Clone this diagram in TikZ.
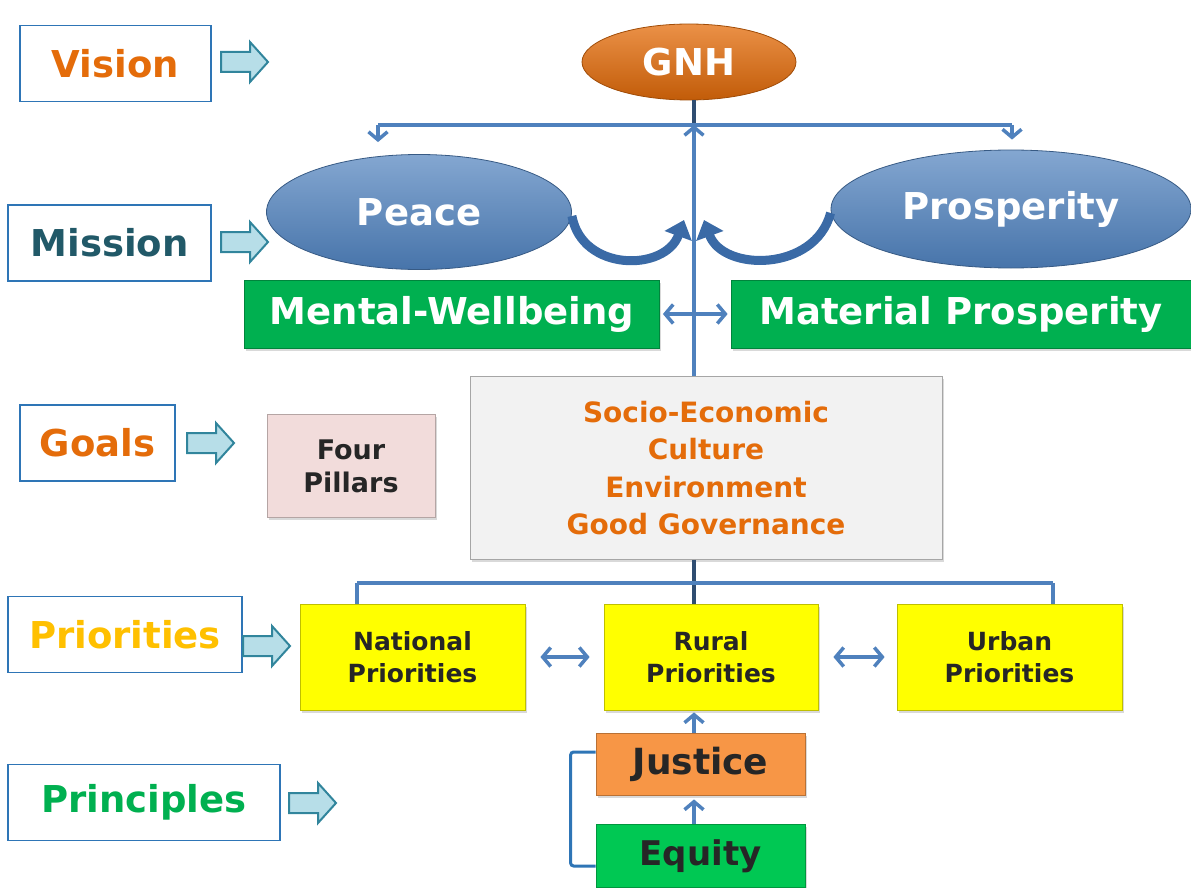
\documentclass[tikz,border=0pt]{standalone}
\usepackage{fontspec}
\setmainfont{DejaVu Sans}
\usetikzlibrary{shapes.geometric,arrows.meta,shadows}

\definecolor{lblblue}{HTML}{2E75B6}
\definecolor{arrteal}{HTML}{31859C}
\definecolor{arrfill}{HTML}{B7DEE8}
\definecolor{txtorange}{HTML}{E46C0A}
\definecolor{txtteal}{HTML}{215968}
\definecolor{txtgold}{HTML}{FFC000}
\definecolor{txtgreen}{HTML}{00B050}
\definecolor{conblue}{HTML}{4F81BD}
\definecolor{curveblue}{HTML}{3A6AA6}
\definecolor{boxgreen}{HTML}{00B050}
\definecolor{boxgray}{HTML}{F2F2F2}
\definecolor{boxpink}{HTML}{F2DCDB}
\definecolor{boxyellow}{HTML}{FFFF00}
\definecolor{boxorange}{HTML}{F79646}
\definecolor{boxequity}{HTML}{00C853}

\newcommand{\boldsz}[2]{\fontsize{#1}{#2}\selectfont\bfseries}

\tikzset{
  lbl/.style={draw=lblblue, line width=1.3pt, fill=white, minimum height=76pt, inner sep=0pt, font=\boldsz{37}{40}},
  blockarr/.pic={\draw[draw=arrteal, fill=arrfill, line width=2pt, line join=miter]
    (0,-10) -- (29,-10) -- (29,-20) -- (47,0) -- (29,20) -- (29,10) -- (0,10) -- cycle;},
  oval/.style={ellipse, draw=#1, line width=0.8pt, text=white, inner sep=0pt, font=\boldsz{37}{40}},
  box/.style={rectangle, draw=#1!75!black, fill=#1, line width=0.8pt, inner sep=0pt,
    drop shadow={shadow xshift=1.5pt, shadow yshift=-2.5pt, opacity=0.3}},
  conn/.style={draw=conblue, line width=3.5pt},
  arr/.style={conn, -{Straight Barb[length=8pt,width=19pt]}},
  dblarr/.style={conn, {Straight Barb[length=8pt,width=19pt]}-{Straight Barb[length=8pt,width=19pt]}},
  curvy/.style={draw=curveblue, line width=9pt, -{Triangle[width=28pt,length=17pt]}},
}

\begin{document}
\begin{tikzpicture}[x=1pt,y=-1pt]
\useasboundingbox (0,0) rectangle (1191,888);

% left labels
\node[lbl, minimum width=191pt, text=txtorange] (vision) at (115.5,63.5) {Vision};
\node[lbl, minimum width=203pt, text=txtteal] (mission) at (109.5,243) {Mission};
\node[lbl, minimum width=155pt, text=txtorange] (goals) at (97.5,443) {Goals};
\node[lbl, minimum width=234pt, text=txtgold] (priorities) at (125,634.5) {Priorities};
\node[lbl, minimum width=272pt, text=txtgreen] (principles) at (144,802.5) {Principles};

% block arrows
\pic at (221,62) {blockarr};
\pic at (221,242) {blockarr};
\pic at (187,443) {blockarr};
\pic at (243,646) {blockarr};
\pic at (289,803) {blockarr};

% vision and mission
\node[oval=txtorange!70!black, top color=txtorange!75!white, bottom color=txtorange!85!black, minimum width=214pt, minimum height=76pt] (gnh) at (689,62) {GNH};
\node[oval=conblue!70!black, top color=conblue!70!white, bottom color=conblue!90!black, minimum width=305pt, minimum height=115pt] (peace) at (419,212) {Peace};
\node[oval=conblue!70!black, top color=conblue!70!white, bottom color=conblue!90!black, minimum width=360pt, minimum height=118pt] (prosperity) at (1011,209) {Prosperity};

\node[box=boxgreen, minimum width=415pt, minimum height=68pt, text=white, font=\boldsz{37}{40}] (mental) at (452,314) {Mental-Wellbeing};
\node[box=boxgreen, minimum width=460pt, minimum height=68pt, text=white, font=\boldsz{37}{40}] (material) at (961,314) {Material Prosperity};

% goals
\node[box=boxgray, draw=gray!70, minimum width=472pt, minimum height=183pt, text=txtorange, align=center, font=\boldsz{28}{37.5}] (pillars) at (706,468) {Socio-Economic\\Culture\\Environment\\Good Governance};
\node[box=boxpink, minimum width=168pt, minimum height=103pt, text=black!85, align=center, font=\boldsz{27}{33}] (four) at (351,466) {Four\\Pillars};

% priorities
\node[box=boxyellow, minimum width=225pt, minimum height=106pt, align=center, text=black!85, font=\boldsz{25}{32}] (national) at (412.5,657) {National\\Priorities};
\node[box=boxyellow, minimum width=214pt, minimum height=106pt, align=center, text=black!85, font=\boldsz{25}{32}] (rural) at (711,657) {Rural\\Priorities};
\node[box=boxyellow, minimum width=225pt, minimum height=106pt, align=center, text=black!85, font=\boldsz{25}{32}] (urban) at (1009.5,657) {Urban\\Priorities};

% principles
\node[box=boxorange, minimum width=209pt, minimum height=62pt, text=black!85, font=\boldsz{36}{40}] (justice) at (700.5,764) {Justice};
\node[box=boxequity, minimum width=209pt, minimum height=63pt, text=black!85, font=\boldsz{34}{40}] (equity) at (700.5,856) {Equity};

% spine and branches
\coordinate (jtop) at (694,125);
\coordinate (hl) at (378,125);
\coordinate (hr) at (1012,125);
\coordinate (jbot) at (694,583);
\coordinate (bl) at (357,583);
\coordinate (br) at (1053,583);
\coordinate (cl) at (684,220);
\coordinate (cr) at (704,220);

\draw[conn, draw=conblue!60!black] (gnh.south -| jtop) -- (jtop);
\draw[conn] (hl) -- (hr);
\draw[arr, shorten >=12pt] (hl) -- (hl |- peace.north);
\draw[arr, shorten >=10pt] (hr) -- (hr |- prosperity.north);
\draw[arr] (pillars.north -| jtop) -- (jtop);
\draw[dblarr, shorten <=3pt, shorten >=3pt] (mental.east) -- (material.west);

% curved arrows
\draw[curvy] ([yshift=-4pt]peace.east) .. controls (582,272) and (665,272) .. (cl);
\draw[curvy] ([yshift=-4pt]prosperity.west) .. controls (815,272) and (723,272) .. (cr);

% lower branches
\draw[conn, draw=conblue!60!black] (pillars.south -| jbot) -- (rural.north -| jbot);
\draw[conn] (bl) -- (br);
\draw[conn] (bl) -- (bl |- national.north);
\draw[conn] (br) -- (br |- urban.north);
\draw[dblarr, shorten <=15pt, shorten >=14pt] (national.east) -- (rural.west);
\draw[dblarr, shorten <=15pt, shorten >=12pt] (rural.east) -- (urban.west);
\draw[arr, shorten >=2pt] (justice.north -| jbot) -- (rural.south -| jbot);
\draw[arr, shorten >=4pt] (equity.north -| jbot) -- (justice.south -| jbot);

% bracket
\draw[draw=lblblue, line width=3pt, rounded corners=3pt] ([yshift=12pt]justice.west) -- ++(-25,0) |- ([yshift=-10pt]equity.west);
\end{tikzpicture}
\end{document}
